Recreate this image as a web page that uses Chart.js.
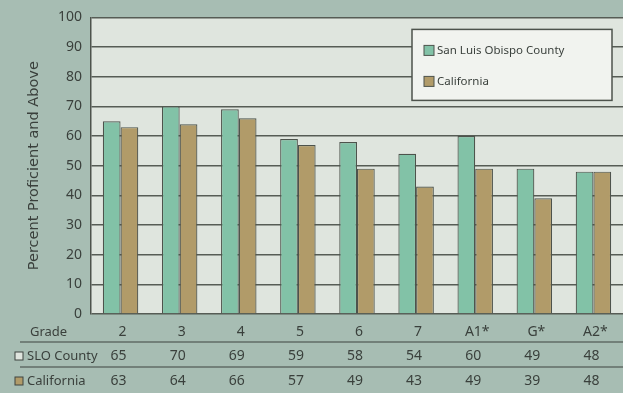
<!DOCTYPE html>
<html>
<head>
<meta charset="utf-8">
<script src="https://cdn.jsdelivr.net/npm/chart.js@4.4.0/dist/chart.umd.min.js"></script>
<style>
  html, body { margin: 0; padding: 0; background: #a7bdb3; }
  #wrap { width: 623px; height: 393px; position: relative; }
</style>
</head>
<body>
<div id="wrap"><canvas id="c" width="623" height="393"></canvas></div>
<script>
// grades and results
const grades = ["2", "3", "4", "5", "6", "7", "A1*", "G*", "A2*"];
const sloCounty = [65, 70, 69, 59, 58, 54, 60, 49, 48];
const california = [63, 64, 66, 57, 49, 43, 49, 39, 48];
const yTicks = [0, 10, 20, 30, 40, 50, 60, 70, 80, 90, 100];

const seriesNames = ["San Luis Obispo County", "California"];
const rowNames = ["SLO County", "California"];

const TEAL = "#82c2a7";
const TAN = "#b19b69";
const EDGE = "#4d534c";
const INK = "#3a403c";
const FONT = "'Noto Sans', sans-serif";
const WIDE = "'DejaVu Sans', sans-serif";

// plot background + outer background
const backdrop = {
    id: "backdrop",
    beforeDraw(chart) {
        const c = chart.ctx, a = chart.chartArea;
        c.save();
        c.fillStyle = "#a7bdb3";
        c.fillRect(0, 0, chart.width, chart.height);
        c.fillStyle = "#dfe5de";
        c.fillRect(a.left, a.top, a.right - a.left, a.bottom - a.top);
        c.restore();
    }
};

// boxed legend inside the plot, top right
const boxLegend = {
    id: "boxLegend",
    afterDraw(chart) {
        const c = chart.ctx, a = chart.chartArea;
        const w = 200, h = 71;
        const x = a.right - 211, y = a.top + 12;
        c.save();
        c.fillStyle = "#f1f3ef";
        c.fillRect(x, y, w, h);
        c.strokeStyle = EDGE;
        c.lineWidth = 1.5;
        c.strokeRect(x, y, w, h);
        c.font = "11.5px " + FONT;
        c.textBaseline = "middle";
        chart.data.datasets.forEach((ds, i) => {
            const ly = y + 21 + i * 31;
            c.fillStyle = ds.backgroundColor;
            c.fillRect(x + 12, ly - 5, 10, 10);
            c.strokeStyle = EDGE;
            c.lineWidth = 1;
            c.strokeRect(x + 12, ly - 5, 10, 10);
            c.fillStyle = INK;
            c.fillText(ds.label, x + 25, ly);
        });
        c.restore();
    }
};

// data table under the axis
const gradeTable = {
    id: "gradeTable",
    afterDraw(chart) {
        const c = chart.ctx, xs = chart.scales.x, a = chart.chartArea;
        const rows = [sloCounty, california];
        const colors = [TEAL, TAN];
        c.save();
        c.fillStyle = INK;
        c.textBaseline = "middle";
        c.font = "13px " + FONT;
        c.textAlign = "left";
        c.fillText("Grade", 30, a.bottom + 18);
        c.textAlign = "center";
        c.font = "14px " + FONT;
        grades.forEach((g, i) => c.fillText(g, xs.getPixelForValue(i) + 2, a.bottom + 18));

        c.strokeStyle = "#3f4540";
        c.lineWidth = 1.2;
        [a.bottom + 28, a.bottom + 53].forEach(ly => {
            c.beginPath();
            c.moveTo(20, ly);
            c.lineTo(chart.width, ly);
            c.stroke();
        });

        rows.forEach((vals, r) => {
            const ry = a.bottom + 42 + r * 25;
            c.fillStyle = r === 0 ? "#dfe5de" : colors[r];
            c.fillRect(15, ry - 4, 8, 8);
            c.strokeStyle = "#3f4540";
            c.lineWidth = 1;
            c.strokeRect(15, ry - 4, 8, 8);
            c.fillStyle = INK;
            c.textAlign = "left";
            c.font = "13px " + FONT;
            c.fillText(rowNames[r], 27, ry);
            c.textAlign = "center";
            c.font = "14px " + FONT;
            vals.forEach((v, i) => c.fillText(String(v), xs.getPixelForValue(i) - 2, ry));
        });
        c.restore();
    }
};

new Chart(document.getElementById("c"), {
    type: "bar",
    data: {
        labels: grades,
        datasets: [{
            label: seriesNames[0],
            data: sloCounty,
            backgroundColor: TEAL,
            borderColor: EDGE,
            borderWidth: 1.2
        }, {
            label: seriesNames[1],
            data: california,
            backgroundColor: TAN,
            borderColor: EDGE,
            borderWidth: 1.2
        }]
    },
    options: {
        responsive: false,
        animation: false,
        events: [],
        layout: { padding: { top: 15, bottom: 79, left: 0, right: 0 } },
        datasets: { bar: { categoryPercentage: 0.6, barPercentage: 1.0 } },
        plugins: {
            legend: { display: false },
            title: { display: false },
            tooltip: { enabled: false }
        },
        scales: {
            x: {
                display: false,
                grid: { display: false }
            },
            y: {
                min: 0,
                max: 100,
                afterFit(s) { s.width = 91; },
                afterBuildTicks(s) { s.ticks = yTicks.map(v => ({ value: v })); },
                border: { display: true, color: EDGE, width: 1.5 },
                grid: { color: "#565c55", lineWidth: 1.5, drawTicks: false },
                ticks: {
                    color: INK,
                    padding: 9,
                    font: { family: FONT, size: 14 }
                },
                title: {
                    display: true,
                    text: "Percent Proficient and Above",
                    color: INK,
                    padding: { top: 26, bottom: 6 },
                    font: { family: WIDE, size: 14.5 }
                }
            }
        }
    },
    plugins: [backdrop, boxLegend, gradeTable]
});
</script>
</body>
</html>
